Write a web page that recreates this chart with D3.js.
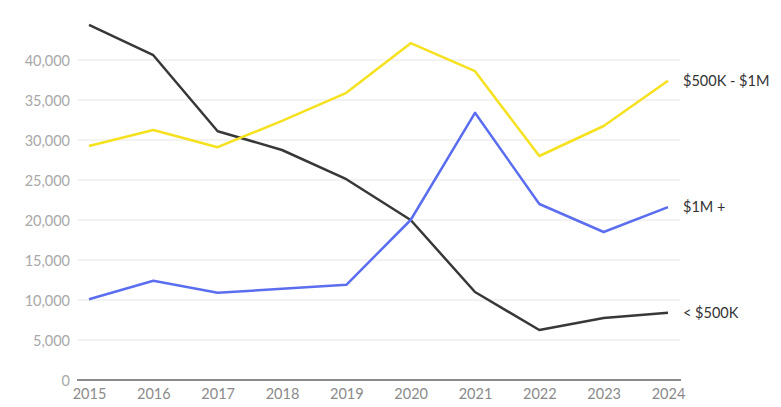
<!DOCTYPE html>
<html>
<head>
<meta charset="utf-8">
<script src="https://cdn.jsdelivr.net/npm/d3@7"></script>
<style>
  html, body { margin: 0; padding: 0; background: #fff; }
  svg { display: block; font-family: Lato, "Open Sans", sans-serif; }
</style>
</head>
<body>
<svg id="chart" width="781" height="407"></svg>
<script>
const years = [2015, 2016, 2017, 2018, 2019, 2020, 2021, 2022, 2023, 2024];
const seriesNames = ["< $500K", "$500K - $1M", "$1M +"];
const under500k = [44400, 40600, 31100, 28750, 25100, 20000, 11000, 6250, 7750, 8400];
const mid500kTo1m = [29250, 31250, 29100, 32400, 35900, 42100, 38600, 28000, 31750, 37400];
const over1m = [10100, 12400, 10900, 11400, 11900, 20000, 33400, 22000, 18500, 21600];
const yTicks = [0, 5000, 10000, 15000, 20000, 25000, 30000, 35000, 40000];
const colors = ["#383838", "#f5e11e", "#5b6ef0"];
const titleText = "Home sales by price range, 2015–2024";

const series = [under500k, mid500kTo1m, over1m];

const svg = d3.select("#chart");
const x = d3.scalePoint().domain(years).range([89, 668]);
const y = d3.scaleLinear().domain([0, 45000]).range([380, 20]);

// title (cut off at top, as in reference)
svg.append("text")
  .attr("x", 325).attr("y", -3)
  .attr("text-anchor", "middle")
  .attr("font-size", 17)
  .attr("fill", "#bbb")
  .text(titleText);

// gridlines
svg.append("g")
  .selectAll("line")
  .data(yTicks.filter(d => d > 0))
  .join("line")
  .attr("x1", 78).attr("x2", 680)
  .attr("y1", d => y(d)).attr("y2", d => y(d))
  .attr("stroke", "#e6e6e6").attr("stroke-width", 1);

// y axis labels
const yAxis = d3.axisLeft(y).tickValues(yTicks).tickSize(0).tickPadding(0)
  .tickFormat(d3.format(","));
const gy = svg.append("g").attr("transform", "translate(70,0)").call(yAxis);
gy.select(".domain").remove();
gy.selectAll("text").attr("font-size", 14.5).attr("fill", "#a8a8a8")
  .attr("font-family", "Lato, sans-serif").attr("dy", "0.35em");

// x axis
const xAxis = d3.axisBottom(x).tickSize(0).tickPadding(0);
const gx = svg.append("g").attr("transform", "translate(0,380)").call(xAxis);
gx.select(".domain").remove();
gx.selectAll("text").attr("font-size", 14.5).attr("fill", "#8a8a8a")
  .attr("font-family", "Lato, sans-serif").attr("y", 9).attr("dy", "0.71em");

// baseline
svg.append("line")
  .attr("x1", 77).attr("x2", 681)
  .attr("y1", y(0)).attr("y2", y(0))
  .attr("stroke", "#666").attr("stroke-width", 1.5);

// lines
const line = d3.line().x((d, i) => x(years[i])).y(d => y(d));
series.forEach((s, k) => {
  svg.append("path")
    .datum(s)
    .attr("d", line)
    .attr("fill", "none")
    .attr("stroke", colors[k])
    .attr("stroke-width", 2.5)
    .attr("stroke-linejoin", "round");
  svg.append("text")
    .attr("x", x(years[years.length - 1]) + 15)
    .attr("y", y(s[s.length - 1]))
    .attr("dy", "0.35em")
    .attr("font-size", 14.5)
    .attr("fill", "#333")
    .text(seriesNames[k]);
});
</script>
</body>
</html>
